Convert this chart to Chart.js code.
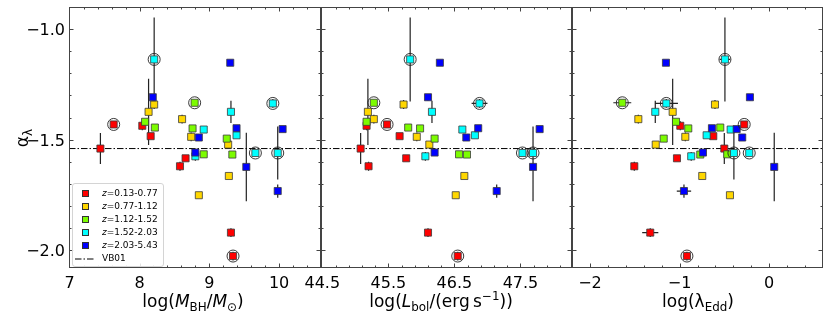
<!DOCTYPE html>
<html>
<head>
<meta charset="utf-8">
<script src="https://cdn.jsdelivr.net/npm/chart.js@4.4.1/dist/chart.umd.min.js"></script>
<style>
html,body{margin:0;padding:0;background:#fff;}
#wrap{position:relative;width:830px;height:323px;overflow:hidden;font-family:'DejaVu Sans',sans-serif;background:#fff;}
canvas{position:absolute;left:0;top:0;}
.t{position:absolute;font-size:17px;line-height:20px;white-space:nowrap;color:#000;z-index:5;}
.t sub{font-size:70%;vertical-align:-0.3em;line-height:0;}
.t sup{font-size:70%;vertical-align:0.55em;line-height:0;}
#legend{position:absolute;left:72px;top:183px;width:90px;height:82px;border:1px solid #d4d4d4;border-radius:3px;background:rgba(255,255,255,0.85);z-index:4;}
.lm{position:absolute;width:7px;height:7px;box-sizing:border-box;border:1px solid #333;z-index:6;}
.lt{position:absolute;font-size:9px;line-height:11px;white-space:nowrap;color:#000;z-index:6;}
</style>
</head>
<body>
<div id="wrap">
  <canvas id="c1" width="830" height="323"></canvas>
  <canvas id="c2" width="830" height="323"></canvas>
  <canvas id="c3" width="830" height="323"></canvas>
  <div class="t" style="left:22px;top:137.5px;transform:translate(-50%,-50%) rotate(-90deg);">α<sub>λ</sub></div>
  <div class="t" style="left:193px;top:291px;transform:translateX(-50%);">log(<i>M</i><sub>BH</sub>/<i>M</i><sub>⊙</sub>)</div>
  <div class="t" style="left:441px;top:291px;transform:translateX(-50%);">log(<i>L</i><sub>bol</sub>/(erg&thinsp;s<sup>−1</sup>))</div>
  <div class="t" style="left:698px;top:291px;transform:translateX(-50%);">log(λ<sub>Edd</sub>)</div>
  <div id="legend"></div>
</div>
<script>
// ---------------- data ----------------
const zLabels = ['0.13-0.77', '0.77-1.12', '1.12-1.52', '1.52-2.03', '2.03-5.43'];
const zColors = ['#ff0000', '#ffd700', '#7cfc00', '#00ffff', '#0000ff'];
const vbLabel = 'VB01';
const vb01 = -1.54;

// redshift bin of each quasar (0..4)
const group  = [3, 4, 4, 2, 3, 1, 1, 3, 1, 2, 0, 0, 2, 4, 2, 4, 3, 3, 0, 1, 4, 2, 1, 0, 4, 3, 3, 2, 2, 3, 0, 0, 4, 1, 4, 1, 0, 0];
// spectral slope alpha_lambda
const alpha  = [-1.137, -1.152, -1.308, -1.333, -1.336, -1.341, -1.374, -1.374, -1.407, -1.419, -1.431, -1.437, -1.445, -1.448, -1.449, -1.452, -1.454, -1.480, -1.484, -1.487, -1.490, -1.495, -1.522, -1.540, -1.558, -1.560, -1.560, -1.566, -1.567, -1.575, -1.584, -1.620, -1.623, -1.664, -1.732, -1.751, -1.920, -2.026];
const alphaErr = [0.19, 0, 0.015, 0, 0.02, 0.02, 0.15, 0.05, 0.02, 0, 0, 0.02, 0, 0, 0, 0, 0, 0, 0, 0.02, 0, 0, 0, 0.07, 0, 0, 0.12, 0, 0, 0.02, 0, 0.02, 0.155, 0, 0.03, 0, 0.02, 0.02];
// log black hole mass
const logM   = [8.21, 9.30, 8.19, 8.79, 9.91, 8.21, 8.13, 9.31, 8.61, 8.08, 7.63, 8.04, 8.22, 9.39, 8.76, 10.05, 8.92, 9.39, 8.16, 8.74, 8.85, 9.25, 9.27, 7.44, 8.80, 9.66, 9.98, 8.92, 9.33, 8.80, 8.66, 8.58, 9.53, 9.28, 9.98, 8.85, 9.31, 9.34];
// log bolometric luminosity
const logL   = [45.83, 46.28, 46.10, 45.28, 46.88, 45.73, 45.19, 46.16, 45.28, 45.17, 45.48, 45.17, 45.80, 46.86, 45.98, 47.79, 46.62, 46.81, 45.67, 45.93, 46.68, 46.20, 46.12, 45.08, 46.20, 47.53, 47.69, 46.57, 46.69, 46.06, 45.77, 45.20, 47.69, 46.65, 47.14, 46.52, 46.10, 46.55];
const logLErr = [0, 0, 0, 0, 0.12, 0, 0, 0, 0, 0, 0, 0, 0, 0, 0, 0, 0, 0, 0, 0, 0, 0, 0, 0, 0, 0, 0, 0, 0, 0, 0, 0.03, 0, 0, 0.03, 0, 0.03, 0.03];
// log Eddington ratio
const logEdd = [-0.494, -1.152, -0.215, -1.639, -1.148, -0.605, -1.077, -1.271, -1.460, -1.040, -0.279, -0.992, -0.546, -0.639, -0.903, -0.363, -0.430, -0.698, -0.624, -0.936, -0.301, -1.177, -1.266, -0.501, -0.739, -0.223, -0.394, -0.468, -0.769, -0.870, -1.029, -1.505, 0.056, -0.747, -0.951, -0.438, -1.327, -0.918];
const logEddErr = [0.06, 0, 0.03, 0.10, 0.13, 0, 0, 0, 0, 0, 0, 0, 0, 0, 0, 0, 0, 0, 0, 0, 0, 0, 0, 0, 0, 0, 0, 0, 0, 0, 0, 0.03, 0, 0, 0.08, 0, 0.09, 0.04];
// circled objects
const circled = [1, 0, 0, 1, 1, 0, 0, 0, 0, 0, 1, 0, 0, 0, 0, 0, 0, 0, 0, 0, 0, 0, 0, 0, 0, 1, 1, 0, 0, 0, 0, 0, 0, 0, 0, 0, 0, 1];

// tick labels
const yTicks  = [-2.0, -1.5, -1.0];
const xTicksM = [7, 8, 9, 10];
const xTicksL = [44.5, 45.5, 46.5, 47.5];
const xTicksE = [-2, -1, 0];

// ---------------- rendering ----------------
const Y_MIN = -2.08, Y_MAX = -0.9;
const minus = s => String(s).replace('-', '\u2212');

const panels = [
  { id: 'c1', xv: logM,   xe: null,      min: 6.99,  max: 10.6,  ticks: xTicksM, fmt: v => minus(v),            left: 69,  right: 321, showY: true },
  { id: 'c2', xv: logL,   xe: logLErr,   min: 44.48, max: 48.28, ticks: xTicksL, fmt: v => minus(v.toFixed(1)), left: 321, right: 572, showY: false },
  { id: 'c3', xv: logEdd, xe: logEddErr, min: -2.2,  max: 0.6,   ticks: xTicksE, fmt: v => minus(v),            left: 572, right: 823, showY: false }
];

const TOP = 7, BOTTOM = 268, W = 830, H = 323;

const noPad = s => { s.paddingTop = 0; s.paddingBottom = 0; s.paddingLeft = 0; s.paddingRight = 0; };

const errPlugin = {
  id: 'errbars',
  beforeDatasetsDraw(chart) {
    const p = chart.options.plugins.errbars.panel;
    const { ctx, scales: { x, y } } = chart;
    ctx.save();
    ctx.strokeStyle = '#222';
    ctx.lineWidth = 1.2;
    ctx.beginPath();
    for (let i = 0; i < alpha.length; i++) {
      const px = x.getPixelForValue(p.xv[i]);
      const py = y.getPixelForValue(alpha[i]);
      if (alphaErr[i] > 0) {
        ctx.moveTo(px, y.getPixelForValue(alpha[i] - alphaErr[i]));
        ctx.lineTo(px, y.getPixelForValue(alpha[i] + alphaErr[i]));
      }
      if (p.xe && p.xe[i] > 0) {
        ctx.moveTo(x.getPixelForValue(p.xv[i] - p.xe[i]), py);
        ctx.lineTo(x.getPixelForValue(p.xv[i] + p.xe[i]), py);
      }
    }
    ctx.stroke();
    ctx.restore();
  }
};

const framePlugin = {
  id: 'frame',
  afterDatasetsDraw(chart) {
    const p = chart.options.plugins.errbars.panel;
    const { ctx, chartArea: a, scales: { x, y } } = chart;
    ctx.save();
    ctx.strokeStyle = '#444';
    ctx.lineWidth = 1;
    ctx.beginPath();
    const L = Math.round(a.left) + 0.5, R = Math.round(a.right) - 0.5;
    const T = Math.round(a.top) + 0.5, B = Math.round(a.bottom) - 0.5;
    const xt = (v, len) => {
      const px = Math.round(x.getPixelForValue(v)) + 0.5;
      if (px <= L + 1 || px >= R - 1) return;
      ctx.moveTo(px, B); ctx.lineTo(px, B - len);
      ctx.moveTo(px, T); ctx.lineTo(px, T + len);
    };
    const yt = (v, len) => {
      const py = Math.round(y.getPixelForValue(v)) + 0.5;
      if (py <= T + 1 || py >= B - 1) return;
      ctx.moveTo(L, py); ctx.lineTo(L + len, py);
      ctx.moveTo(R, py); ctx.lineTo(R - len, py);
    };
    const base = p.ticks[0];
    for (let k = -40; k <= 40; k++) {
      const v = +(base + k * 0.2).toFixed(3);
      if (v <= p.min || v >= p.max) continue;
      const isMajor = p.ticks.some(t => Math.abs(t - v) < 1e-6);
      xt(v, isMajor ? 4 : 2);
    }
    for (let k = -5; k <= 20; k++) {
      const v = +(-2.0 + k * 0.1).toFixed(3);
      if (v <= Y_MIN || v >= Y_MAX) continue;
      const isMajor = yTicks.some(t => Math.abs(t - v) < 1e-6);
      yt(v, isMajor ? 4 : 2);
    }
    ctx.stroke();
    ctx.strokeRect(L, T, R - L, B - T);
    ctx.restore();
  }
};

panels.forEach(p => {
  const datasets = [];
  datasets.push({
    type: 'line', label: vbLabel,
    data: [{ x: p.min, y: vb01 }, { x: p.max, y: vb01 }],
    borderColor: '#000', borderWidth: 1, borderDash: [6.5, 2, 1.5, 2],
    pointRadius: 0, showLine: true, fill: false, order: 10
  });
  for (let g = 0; g < zLabels.length; g++) {
    const data = [];
    for (let i = 0; i < alpha.length; i++) if (group[i] === g) data.push({ x: p.xv[i], y: alpha[i] });
    datasets.push({
      type: 'scatter', label: 'z=' + zLabels[g], data,
      pointStyle: 'rect', pointRadius: 5, pointHoverRadius: 5,
      backgroundColor: zColors[g], borderColor: '#3a3a3a', borderWidth: 0.8,
      order: 6 - g
    });
  }
  const cdata = [];
  for (let i = 0; i < alpha.length; i++) if (circled[i]) cdata.push({ x: p.xv[i], y: alpha[i] });
  datasets.push({
    type: 'scatter', label: 'circled', data: cdata,
    pointStyle: 'circle', pointRadius: 6, pointHoverRadius: 6,
    backgroundColor: 'rgba(0,0,0,0)', borderColor: '#222', borderWidth: 0.9, order: 0
  });

  new Chart(document.getElementById(p.id), {
    type: 'scatter',
    data: { datasets },
    plugins: [errPlugin, framePlugin],
    options: {
      responsive: false, animation: false, devicePixelRatio: 1, events: [],
      layout: { autoPadding: false, padding: { left: p.showY ? 0 : p.left, right: W - p.right, top: TOP, bottom: 0 } },
      plugins: { legend: { display: false }, tooltip: { enabled: false }, errbars: { panel: p }, frame: {} },
      scales: {
        x: {
          type: 'linear', position: 'bottom', min: p.min, max: p.max,
          afterBuildTicks: s => { s.ticks = p.ticks.map(v => ({ value: v })); },
          afterFit: s => { s.height = H - BOTTOM; noPad(s); },
          grid: { display: false, drawTicks: false }, border: { display: false },
          ticks: { font: { family: "'DejaVu Sans'", size: 16 }, color: '#000', padding: 6, maxRotation: 0, autoSkip: false,
                   callback: v => p.fmt(v) }
        },
        y: {
          type: 'linear', position: 'left', min: Y_MIN, max: Y_MAX, display: p.showY,
          afterBuildTicks: s => { s.ticks = yTicks.map(v => ({ value: v })); },
          afterFit: s => { s.width = p.showY ? p.left : 0; noPad(s); },
          grid: { display: false, drawTicks: false }, border: { display: false },
          ticks: { font: { family: "'DejaVu Sans'", size: 16 }, color: '#000', padding: 4, labelOffset: 2, autoSkip: false,
                   callback: v => minus(v.toFixed(1)) }
        }
      }
    }
  });
});

// ---------------- legend ----------------
const leg = document.getElementById('wrap');
const rowY0 = 193.3, rowDY = 13.1;
zLabels.forEach((lab, g) => {
  const cy = rowY0 + g * rowDY;
  const m = document.createElement('div');
  m.className = 'lm';
  m.style.left = '82px'; m.style.top = (cy - 3.5) + 'px'; m.style.background = zColors[g];
  leg.appendChild(m);
  const t = document.createElement('div');
  t.className = 'lt';
  t.style.left = '102px'; t.style.top = (cy - 5.5) + 'px';
  t.innerHTML = '<i>z</i>=' + lab;
  leg.appendChild(t);
});
{
  const cy = rowY0 + zLabels.length * rowDY;
  const s = document.createElementNS('http://www.w3.org/2000/svg', 'svg');
  s.setAttribute('width', '22'); s.setAttribute('height', '4');
  s.style.position = 'absolute'; s.style.left = '75px'; s.style.top = (cy - 2) + 'px'; s.style.zIndex = 6;
  s.innerHTML = '<line x1="0" y1="2" x2="20" y2="2" stroke="#000" stroke-width="1" stroke-dasharray="6.5 2 1.5 2"/>';
  leg.appendChild(s);
  const t = document.createElement('div');
  t.className = 'lt';
  t.style.left = '102px'; t.style.top = (cy - 5.5) + 'px';
  t.textContent = vbLabel;
  leg.appendChild(t);
}
</script>
</body>
</html>
